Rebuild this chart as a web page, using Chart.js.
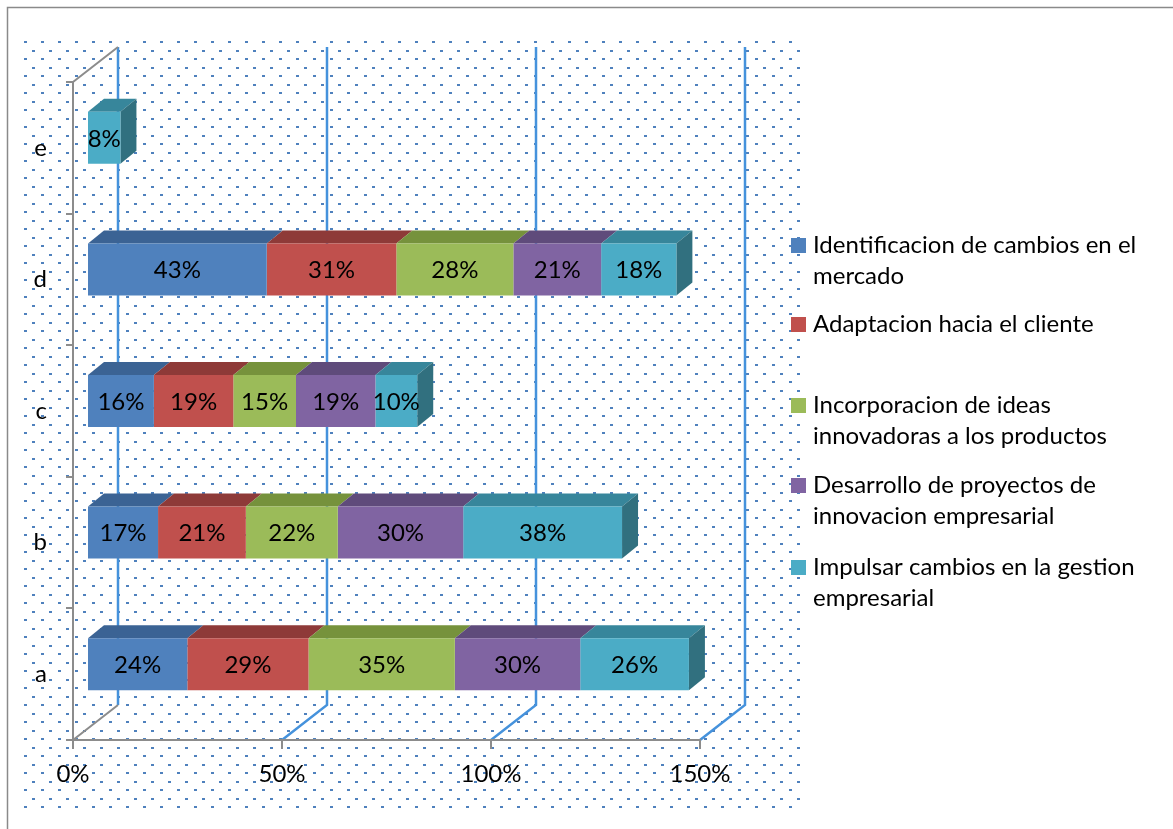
<!DOCTYPE html>
<html>
<head>
<meta charset="utf-8">
<script src="https://cdn.jsdelivr.net/npm/chart.js@4.4.1/dist/chart.umd.min.js"></script>
<style>
  body { margin: 0; background: #fff; }
  canvas { display: block; }
</style>
</head>
<body>
<canvas id="grafico" width="1173" height="829"></canvas>
<script>
// categorias (de abajo hacia arriba)
const categorias = ['a', 'b', 'c', 'd', 'e'];
const nombresSeries = [
  'Identificacion de cambios en el mercado',
  'Adaptacion hacia el cliente',
  'Incorporacion de ideas innovadoras a los productos',
  'Desarrollo de proyectos de innovacion empresarial',
  'Impulsar cambios en la gestion empresarial'
];
// porcentajes por serie, en el orden de las categorias
const identificacion = [24, 17, 16, 43, null];
const adaptacion     = [29, 21, 19, 31, null];
const incorporacion  = [35, 22, 15, 28, null];
const desarrollo     = [30, 30, 19, 21, null];
const impulsar       = [26, 38, 10, 18, 8];
const ticksX = [0, 50, 100, 150];

// lineas de la leyenda, partidas como en el grafico
const lineasLeyenda = [
  ['Identificacion de cambios en el', 'mercado'],
  ['Adaptacion hacia el cliente'],
  ['Incorporacion de ideas', 'innovadoras a los productos'],
  ['Desarrollo de proyectos de', 'innovacion empresarial'],
  ['Impulsar cambios en la gestion', 'empresarial']
];

const colores   = ['#4F81BD', '#C0504D', '#9BBB59', '#8064A2', '#4BACC6'];
const techos    = ['#3B6394', '#8E3A38', '#76923C', '#5F4B7B', '#37869B'];
const ladoFinal = ['#2F4F76', '#722E2D', '#5E7530', '#4C3C62', '#31707F'];

const FUENTE = 'Lato, "Open Sans", sans-serif';
const TAM = 24;
const GRIS = '#8C8C8C';
const AZUL = '#4592DC';

// desplazamientos de la perspectiva
const PARED = { dx: 45, dy: -35 };   // pared del fondo
const BARRA = { dx: 14, dy: -10 };   // plano de las barras
const PROF = { dx: 16, dy: -13 };    // profundidad de cada barra

const fondo3d = {
  id: 'fondo3d',
  beforeDraw(chart) {
    const ctx = chart.ctx;
    ctx.save();
    ctx.fillStyle = '#fff';
    ctx.fillRect(0, 0, chart.width, chart.height);
    // trama de puntos del area de trazado
    ctx.fillStyle = '#4F81BD';
    let fila = 0;
    for (let y = 41; y < 808; y += 8.5, fila++) {
      const x0 = fila % 2 ? 32 : 24;
      for (let x = x0; x < 800; x += 17) ctx.fillRect(Math.round(x), Math.round(y), 3, 2);
    }
    // borde del grafico
    ctx.strokeStyle = '#8A8A8A';
    ctx.lineWidth = 1.5;
    ctx.strokeRect(7.5, 7.5, 1300, 1000);

    const xs = chart.scales.x, area = chart.chartArea;
    // lineas de division en la pared del fondo
    ctx.lineWidth = 2.5;
    ticksX.forEach(v => {
      const xf = xs.getPixelForValue(v);
      const xb = xf + PARED.dx;
      ctx.strokeStyle = AZUL;
      ctx.beginPath();
      ctx.moveTo(xb, area.top + PARED.dy);
      ctx.lineTo(xb, area.bottom + PARED.dy);
      if (v !== 0) ctx.lineTo(xf, area.bottom);
      ctx.stroke();
    });
    // pared lateral izquierda
    const x0 = xs.getPixelForValue(0);
    ctx.strokeStyle = GRIS;
    ctx.lineWidth = 2;
    ctx.beginPath();
    ctx.moveTo(x0, area.top);
    ctx.lineTo(x0 + PARED.dx, area.top + PARED.dy);
    ctx.moveTo(x0, area.bottom);
    ctx.lineTo(x0 + PARED.dx, area.bottom + PARED.dy);
    ctx.stroke();
    ctx.restore();
  },
  beforeDatasetsDraw(chart) {
    const ctx = chart.ctx;
    ctx.save();
    ctx.translate(BARRA.dx, BARRA.dy);
    // caras superiores y laterales de cada segmento
    const ultimo = {};
    chart.data.datasets.forEach((ds, i) => {
      chart.getDatasetMeta(i).data.forEach((bar, j) => {
        if (!ds.data[j]) return;
        const p = bar.getProps(['x', 'y', 'base', 'height'], true);
        const top = p.y - p.height / 2;
        ctx.fillStyle = techos[i];
        ctx.beginPath();
        ctx.moveTo(p.base, top);
        ctx.lineTo(p.x, top);
        ctx.lineTo(p.x + PROF.dx, top + PROF.dy);
        ctx.lineTo(p.base + PROF.dx, top + PROF.dy);
        ctx.closePath();
        ctx.fill();
        ultimo[j] = { p, i };
      });
    });
    Object.values(ultimo).forEach(({ p, i }) => {
      const top = p.y - p.height / 2, bot = p.y + p.height / 2;
      ctx.fillStyle = ladoFinal[i];
      ctx.beginPath();
      ctx.moveTo(p.x, top);
      ctx.lineTo(p.x + PROF.dx, top + PROF.dy);
      ctx.lineTo(p.x + PROF.dx, bot + PROF.dy);
      ctx.lineTo(p.x, bot);
      ctx.closePath();
      ctx.fill();
    });
  },
  afterDatasetsDraw(chart) {
    const ctx = chart.ctx;
    // etiquetas de valor sobre la cara frontal
    ctx.fillStyle = '#000';
    ctx.font = TAM + 'px ' + FUENTE;
    ctx.textAlign = 'center';
    ctx.textBaseline = 'middle';
    chart.data.datasets.forEach((ds, i) => {
      chart.getDatasetMeta(i).data.forEach((bar, j) => {
        const v = ds.data[j];
        if (!v) return;
        const p = bar.getProps(['x', 'y', 'base'], true);
        ctx.fillText(v + '%', (p.x + p.base) / 2, p.y + 1);
      });
    });
    ctx.restore();
  },
  afterDraw(chart) {
    const ctx = chart.ctx;
    ctx.save();
    const marcasY = [245, 324, 405, 485, 567];
    ctx.font = TAM + 'px ' + FUENTE;
    ctx.textAlign = 'left';
    ctx.textBaseline = 'middle';
    lineasLeyenda.forEach((lineas, i) => {
      const y = marcasY[i];
      ctx.fillStyle = colores[i];
      ctx.fillRect(791, y - 7, 15, 15);
      ctx.fillStyle = '#000';
      lineas.forEach((t, k) => ctx.fillText(t, 813, y + k * 31));
    });
    ctx.restore();
  }
};

const series = [identificacion, adaptacion, incorporacion, desarrollo, impulsar];

new Chart(document.getElementById('grafico'), {
  type: 'bar',
  data: {
    labels: categorias,
    datasets: series.map((valores, i) => ({
      label: nombresSeries[i],
      data: valores,
      backgroundColor: colores[i],
      borderWidth: 0,
      categoryPercentage: 1,
      barPercentage: 0.395,
      clip: false
    }))
  },
  options: {
    indexAxis: 'y',
    responsive: false,
    animation: false,
    events: [],
    layout: { padding: { top: 82, right: 473, left: 0, bottom: 0 } },
    plugins: { legend: { display: false }, tooltip: { enabled: false } },
    scales: {
      x: {
        stacked: true,
        min: 0,
        max: 150,
        afterBuildTicks: s => { s.ticks = ticksX.map(v => ({ value: v })); },
        ticks: { callback: v => v + '%', color: '#000', font: { family: FUENTE, size: TAM }, padding: 11, maxRotation: 0 },
        grid: { drawOnChartArea: false, tickLength: 9, color: GRIS, lineWidth: 2 },
        border: { color: GRIS, width: 2 },
        afterFit: s => { s.height = 89; }
      },
      y: {
        stacked: true,
        reverse: true,
        ticks: { color: '#000', font: { family: FUENTE, size: TAM }, padding: 19 },
        grid: { drawOnChartArea: false, tickLength: 7, color: GRIS, lineWidth: 2 },
        border: { color: GRIS, width: 2 },
        afterFit: s => { s.width = 73; }
      }
    }
  },
  plugins: [fondo3d]
});
</script>
</body>
</html>
